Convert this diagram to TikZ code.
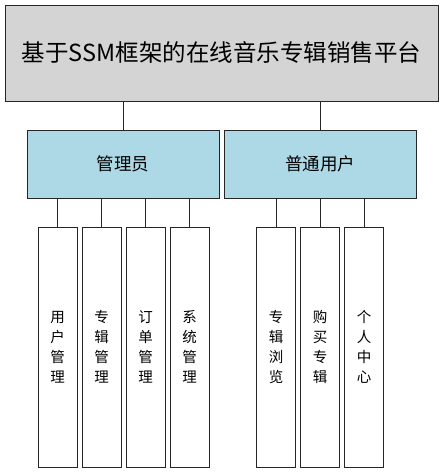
\documentclass[tikz,border=0pt]{standalone}
\usepackage{fontspec}
\newfontfamily\cjk{Noto Sans CJK SC}
\usetikzlibrary{positioning}

\begin{document}
\begin{tikzpicture}[x=1pt, y=1pt, font=\cjk,
	box/.style={draw=black!85, line width=0.9pt, inner sep=0pt, outer sep=0pt},
	rolebox/.style={box, fill={rgb,255:red,173;green,216;blue,230}, minimum width=192pt,
		minimum height=68pt, font=\cjk\fontsize{17.5}{20}\selectfont},
	leafbox/.style={box, fill=white, minimum width=39pt, minimum height=240pt,
		align=center, font=\cjk\fontsize{14.5}{20}\selectfont}]
	
	\useasboundingbox (0,0) rectangle (443,473);
	
	% --- Titel (graue Box oben)
	\node[box, fill=black!17, minimum width=433pt, minimum height=96pt,
		font=\cjk\fontsize{23.5}{28}\selectfont] (top) at (221.5,420) {基于SSM框架的在线音乐专辑销售平台};
	
	% --- Rollen (blau)
	\node[rolebox] (admin) at (123,309) {管理员};
	\node[rolebox] (user) at (320,309) {普通用户};
	
	% --- Module
	\node[leafbox] (usermgr) at (57.5,126) {用\\户\\管\\理};
	\node[leafbox] (albummgr) at (101.5,126) {专\\辑\\管\\理};
	\node[leafbox] (ordermgr) at (145.5,126) {订\\单\\管\\理};
	\node[leafbox] (sysmgr) at (189.5,126) {系\\统\\管\\理};
	
	\node[leafbox] (browse) at (276,126) {专\\辑\\浏\\览};
	\node[leafbox] (buy) at (320,126) {购\\买\\专\\辑};
	\node[leafbox] (center) at (364,126) {个\\人\\中\\心};
	
	% --- Verbindungen
	\foreach \n in {admin, user}
		\draw[black!85, line width=0.9pt] (\n.north) -- (\n.north |- top.south);
	\foreach \n in {usermgr, albummgr, ordermgr, sysmgr}
		\draw[black!85, line width=0.9pt] (\n.north) -- (\n.north |- admin.south);
	\foreach \n in {browse, buy, center}
		\draw[black!85, line width=0.9pt] (\n.north) -- (\n.north |- user.south);
	
\end{tikzpicture}
\end{document}
